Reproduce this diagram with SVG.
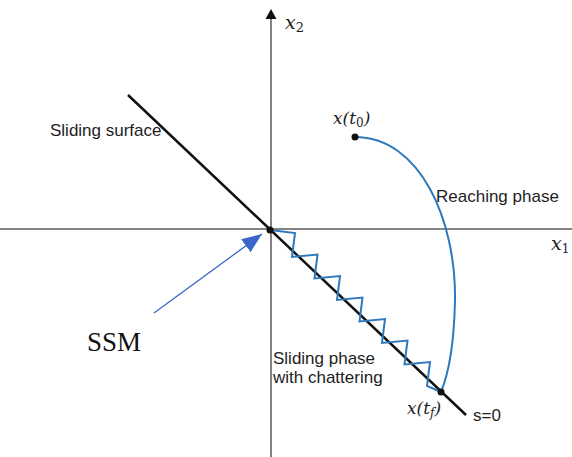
<svg xmlns="http://www.w3.org/2000/svg" width="572" height="457" viewBox="0 0 572 457">
<style>
.axis{stroke:#5a5a5a;stroke-width:1.5;fill:none}
.lbl{font-family:"Liberation Sans",Arial,sans-serif;font-size:17px;fill:#1e1e1e}
.math{font-family:"DejaVu Serif","Liberation Serif",serif;font-style:italic;fill:#1e1e1e}
.blue{stroke:#2e78bd;stroke-width:2;fill:none}
.dot{fill:#111}
</style>
<defs>
<marker id="bluehead" viewBox="0 0 20 16" refX="20" refY="8" markerWidth="20" markerHeight="16" markerUnits="userSpaceOnUse" orient="auto">
<path d="M0,0 L20,8 L0,16 Z" fill="#3a68c8"/>
</marker>
</defs>
<rect width="572" height="457" fill="#fff"/>
<g id="axes">
<line class="axis" x1="0" y1="229" x2="572" y2="229"/>
<line class="axis" x1="271" y1="17" x2="271" y2="457"/>
<path d="M271,9 L265.5,19 L276.5,19 Z" fill="#111"/>
<text class="math" x="551" y="250" font-size="19">x<tspan font-size="12" dy="3" font-style="normal">1</tspan></text>
<text class="math" x="285" y="29" font-size="19">x<tspan font-size="13" dy="3" font-style="normal">2</tspan></text>
</g>
<g id="sliding-surface">
<line x1="128" y1="95" x2="466" y2="415" stroke="#111" stroke-width="2.5"/>
<text class="lbl" x="50" y="136">Sliding surface</text>
<text class="lbl" x="473" y="421">s=0</text>
</g>
<g id="reaching-phase">
<path class="blue" d="M355,137 C420,137 456,220 455,300 C454,350 448,375 441,392"/>
<text class="lbl" x="436" y="202">Reaching phase</text>
</g>
<g id="sliding-phase">
<path class="blue" stroke-width="1.8" stroke-linejoin="miter" d="M270,230 L295,233 L292,257 L317.5,254.5 L314.5,278.5 L340,276 L337,300 L362.5,297.5 L359.5,321.5 L385,319 L382,343 L407.5,340.5 L404.5,364.5 L430,362 L427,386 L441,392"/>
<text class="lbl" x="273" y="364">Sliding phase</text>
<text class="lbl" x="273" y="383">with chattering</text>
</g>
<g id="points">
<circle class="dot" cx="355" cy="137" r="3.5"/>
<circle class="dot" cx="270" cy="230" r="3.5"/>
<circle class="dot" cx="441" cy="392" r="3.5"/>
<text class="math" x="333" y="124" font-size="17">x(t<tspan font-size="12" dy="3" font-style="normal">0</tspan><tspan dy="-3">)</tspan></text>
<text class="math" x="407" y="414" font-size="17">x(t<tspan font-size="12" dy="3">f</tspan><tspan dy="-3">)</tspan></text>
</g>
<g id="ssm">
<text x="87" y="351" font-family="'Liberation Serif','Times New Roman',serif" font-size="27" fill="#111">SSM</text>
</g>
<g id="connectors">
<line x1="154" y1="313" x2="262" y2="234" stroke="#3a68c8" stroke-width="1.3" marker-end="url(#bluehead)"/>
</g>
</svg>
